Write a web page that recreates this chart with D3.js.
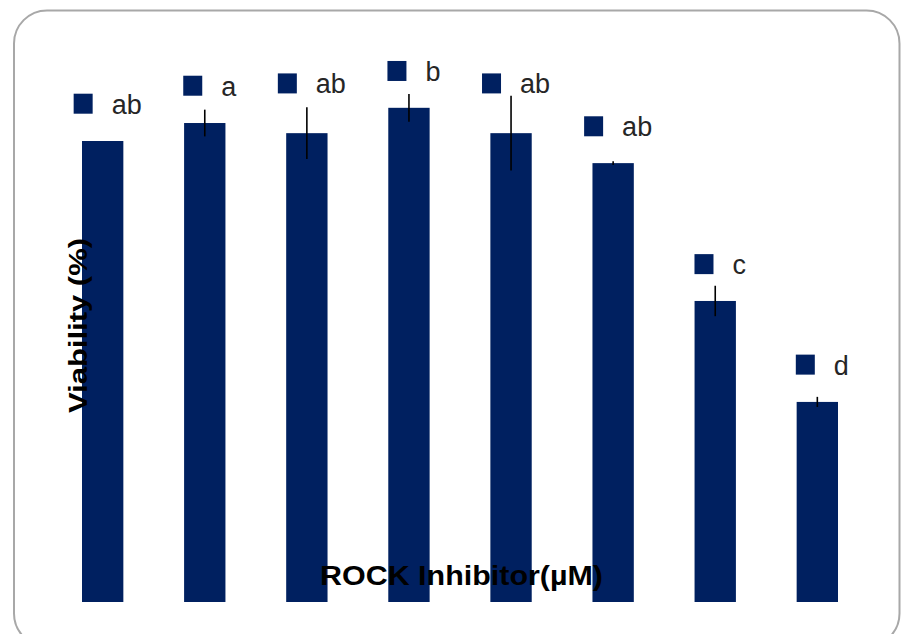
<!DOCTYPE html>
<html>
<head>
<meta charset="utf-8">
<script src="https://cdn.jsdelivr.net/npm/d3@7"></script>
<style>
  html, body { margin: 0; padding: 0; background: #ffffff; }
  svg { display: block; }
</style>
</head>
<body>
<svg id="chart" width="902" height="634"></svg>
<script>
// ---- data ----
const categories = ["G1", "G2", "G3", "G4", "G5", "G6", "G7", "G8"];
const viability = [100, 103.9, 101.7, 107.2, 101.7, 95.2, 65.3, 43.4];
const errors = [0, 2.9, 5.6, 3.0, 8.1, 0.4, 3.3, 1.1];
const letters = ["ab", "a", "ab", "b", "ab", "ab", "c", "d"];
const letterHeights = [108.2, 112.1, 112.6, 115.3, 112.6, 103.3, 73.4, 51.6];
const yDomain = [0, 120];

const svg = d3.select("#chart");
const barColor = "#002060";

// frame
svg.append("rect")
  .attr("x", 14).attr("y", 10.5)
  .attr("width", 885.5).attr("height", 636)
  .attr("rx", 33).attr("ry", 33)
  .attr("fill", "#ffffff")
  .attr("stroke", "#a8a8a8")
  .attr("stroke-width", 2);

const baseY = 602;
const y = d3.scaleLinear().domain(yDomain).range([baseY, baseY - 4.61 * 120]);
const x = d3.scaleBand().domain(categories).range([82, 838]).paddingInner(0.595).paddingOuter(0);

const g = svg.append("g");

// bars
g.selectAll("rect.bar").data(categories).join("rect")
  .attr("class", "bar")
  .attr("x", d => x(d))
  .attr("y", (d, i) => y(viability[i]))
  .attr("width", x.bandwidth())
  .attr("height", (d, i) => y(0) - y(viability[i]))
  .attr("fill", barColor);

// error bars
g.selectAll("line.err").data(categories.filter((d, i) => errors[i] > 0)).join("line")
  .attr("class", "err")
  .attr("x1", d => x(d) + x.bandwidth() / 2)
  .attr("x2", d => x(d) + x.bandwidth() / 2)
  .attr("y1", d => y(viability[categories.indexOf(d)] + errors[categories.indexOf(d)]))
  .attr("y2", d => y(viability[categories.indexOf(d)] - errors[categories.indexOf(d)]))
  .attr("stroke", "#000")
  .attr("stroke-width", 1.6);

// significance labels with legend keys
const sq = 19, gap = 19;
categories.forEach((c, i) => {
  const cy = y(letterHeights[i]);
  const lg = g.append("g");
  const t = lg.append("text")
    .attr("font-family", "Liberation Sans, Arial, sans-serif")
    .attr("font-size", 27)
    .attr("fill", "#262626")
    .text(letters[i]);
  const tw = t.node().getComputedTextLength();
  const total = sq + gap + tw;
  const left = x(c) + x.bandwidth() / 2 + 5 - total / 2;
  lg.insert("rect", "text")
    .attr("x", left).attr("y", cy - sq / 2)
    .attr("width", sq).attr("height", sq + 1)
    .attr("fill", barColor);
  t.attr("x", left + sq + gap).attr("y", cy + 10.5);
});

// axis titles
svg.append("text")
  .attr("x", 461.5).attr("y", 585)
  .attr("text-anchor", "middle")
  .attr("font-family", "Liberation Sans, Arial, sans-serif")
  .attr("font-weight", "bold")
  .attr("font-size", 27)
  .attr("fill", "#000")
  .attr("textLength", 283)
  .attr("lengthAdjust", "spacingAndGlyphs")
  .text("ROCK Inhibitor(µM)");

svg.append("text")
  .attr("transform", "translate(87,325.5) rotate(-90)")
  .attr("text-anchor", "middle")
  .attr("font-family", "Liberation Sans, Arial, sans-serif")
  .attr("font-weight", "bold")
  .attr("font-size", 26)
  .attr("fill", "#000")
  .attr("textLength", 175)
  .attr("lengthAdjust", "spacingAndGlyphs")
  .text("Viability (%)");
</script>
</body>
</html>
